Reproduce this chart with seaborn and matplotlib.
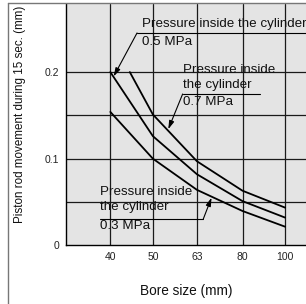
import matplotlib
matplotlib.use("Agg")
import matplotlib.pyplot as plt
import seaborn as sns
import pandas as pd
from matplotlib.lines import Line2D
from matplotlib.ticker import FixedLocator, FixedFormatter, NullLocator

# bore sizes (mm) and piston rod movement during 15 s (mm)
bore_07 = [44.3, 50, 63, 80, 100]
move_07 = [0.200, 0.151, 0.097, 0.063, 0.0435]
bore_05 = [40, 50, 63, 80, 100]
move_05 = [0.200, 0.126, 0.082, 0.051, 0.032]
bore_03 = [40, 50, 63, 80, 100]
move_03 = [0.154, 0.100, 0.064, 0.0396, 0.0215]

x_ticks = [40, 50, 63, 80, 100]
y_ticks = [0, 0.1, 0.2]
y_grid = [0.05, 0.1, 0.15, 0.2]

sns.set_style("white")
plt.rcParams['font.family'] = ['Liberation Sans', 'DejaVu Sans']

fig = plt.figure(figsize=(3.06, 3.04), dpi=100)
ax = fig.add_axes([66 / 306, 1 - 245.3 / 304, 240 / 306, 241.3 / 304])
ax.set_facecolor('#e4e4e4')

ax.set_xscale('log')
ax.set_xlim(31.7, 111.6)
ax.set_ylim(0, 0.2786)

# grid
for x in x_ticks:
    ax.axvline(x, color='#1a1a1a', lw=0.9, zorder=1)
for y in y_grid:
    ax.axhline(y, color='#1a1a1a', lw=0.9, zorder=1)

# curves
for bx, my in [(bore_07, move_07), (bore_05, move_05), (bore_03, move_03)]:
    df = pd.DataFrame({'bore': bx, 'move': my})
    sns.lineplot(data=df, x='bore', y='move', color='black', lw=1.3,
                 sort=False, estimator=None, ax=ax, zorder=3)

ax.xaxis.set_major_locator(FixedLocator(x_ticks))
ax.xaxis.set_major_formatter(FixedFormatter([str(v) for v in x_ticks]))
ax.xaxis.set_minor_locator(NullLocator())
ax.yaxis.set_major_locator(FixedLocator(y_ticks))
ax.yaxis.set_major_formatter(FixedFormatter(['0', '0.1', '0.2']))
ax.tick_params(axis='both', length=0, labelsize=7.5, colors='#222222', pad=5)

for s in ['top', 'right']:
    ax.spines[s].set_visible(False)
for s in ['left', 'bottom']:
    ax.spines[s].set_color('black')
    ax.spines[s].set_linewidth(1.0)

ax.set_xlabel('Bore size (mm)', fontsize=9.8, color='#111111')
ax.xaxis.set_label_coords(0.5, -0.16)
ax.set_ylabel('Piston rod movement during 15 sec. (mm)', fontsize=8.4, color='#111111')
ax.yaxis.set_label_coords(-0.168, 0.542)

fs = 9.6
tkw = dict(transform=ax.transAxes, fontsize=fs, va='center', ha='left', color='#111111', zorder=4)
akw = dict(arrowstyle='-|>,head_length=0.5,head_width=0.15', color='black', lw=0.8,
           shrinkA=0, shrinkB=0)

# 0.5 MPa
ax.text(0.317, 0.917, 'Pressure inside the cylinder', **tkw)
ax.text(0.317, 0.843, '0.5 MPa', **tkw)
ax.add_line(Line2D([0.296, 1.0], [0.880, 0.880], transform=ax.transAxes,
                   color='black', lw=0.8, clip_on=False, zorder=4))
ax.annotate('', xy=(40.7, 0.195), xycoords='data', xytext=(0.296, 0.880),
            textcoords='axes fraction', arrowprops=akw, zorder=4)

# 0.7 MPa
ax.text(0.4875, 0.727, 'Pressure inside', **tkw)
ax.text(0.4875, 0.665, 'the cylinder', **tkw)
ax.text(0.4875, 0.594, '0.7 MPa', **tkw)
ax.add_line(Line2D([0.486, 0.808], [0.627, 0.627], transform=ax.transAxes,
                   color='black', lw=0.8, zorder=4))
ax.annotate('', xy=(54.2, 0.134), xycoords='data', xytext=(0.486, 0.627),
            textcoords='axes fraction', arrowprops=akw, zorder=4)

# 0.3 MPa
ax.text(0.142, 0.222, 'Pressure inside', **tkw)
ax.text(0.142, 0.159, 'the cylinder', **tkw)
ax.text(0.142, 0.080, '0.3 MPa', **tkw)
ax.add_line(Line2D([0.142, 0.572], [0.109, 0.109], transform=ax.transAxes,
                   color='black', lw=0.8, zorder=4))
ax.annotate('', xy=(68.0, 0.055), xycoords='data', xytext=(0.572, 0.109),
            textcoords='axes fraction', arrowprops=akw, zorder=4)

# outer frame
fig.add_artist(Line2D([8.3 / 306, 8.3 / 306], [0, 1 - 3.3 / 304], transform=fig.transFigure,
                      color='#777777', lw=1.0))
fig.add_artist(Line2D([8.3 / 306, 1], [1 - 3.3 / 304, 1 - 3.3 / 304], transform=fig.transFigure,
                      color='#777777', lw=1.0))

fig.savefig('out.png', dpi=100)
